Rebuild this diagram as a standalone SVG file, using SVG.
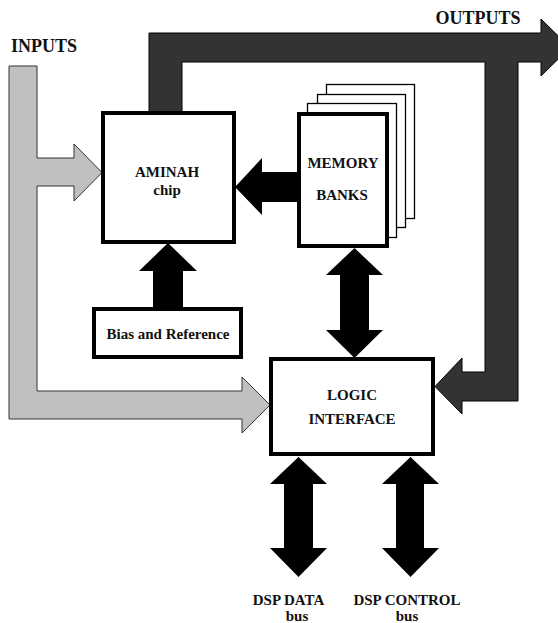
<svg xmlns="http://www.w3.org/2000/svg" width="558" height="623" viewBox="0 0 558 623">
<style>
text{font-family:'Liberation Serif','DejaVu Serif',serif;font-weight:bold;fill:#111;text-anchor:middle}
.big{font-size:18px}
.n{font-size:15px}
.box{fill:#fff;stroke:#000;stroke-width:4}
.sheet{fill:#fff;stroke:#000;stroke-width:1.3}
.gray{fill:#c0c0c0;stroke:#333;stroke-width:1}
.dark{fill:#333;stroke:#000;stroke-width:1}
.blk{fill:#000;stroke:none}
</style>
<rect width="558" height="623" fill="#fff"/>
<g id="connectors">
  <polygon class="gray" points="9,66 37,66 37,158 74,158 74,144 102,172.5 74,201 74,186 37,186 37,391 242,391 242,377 270,405 242,433 242,419 9,419"/>
  <polygon class="dark" points="149,113 149,33 541,33 541,19 570,47.5 541,76 541,62 518,62 518,401 462,401 462,414 435,386.5 462,358 462,372 485,372 485,62 182,62 182,113"/>
  <polygon class="blk" points="298,172 262,172 262,158 235,187 262,215 262,202 298,202"/>
  <polygon class="blk" points="153,308 153,271 139,271 168,243 197,271 183,271 183,308"/>
  <polygon class="blk" points="354.5,248 383,275 369,275 369,330 383,330 354.5,358 326,330 340,330 340,275 326,275"/>
  <polygon class="blk" points="298.5,457 327,484 313,484 313,548 327,548 298.5,577 270,548 284,548 284,484 270,484"/>
  <polygon class="blk" points="410.5,457 439,484 424,484 424,548 439,548 410.5,577 382,548 396,548 396,484 382,484"/>
</g>
<g id="inputs-label"><text class="big" font-family="Liberation Serif, DejaVu Serif, serif" x="44" y="52">INPUTS</text></g>
<g id="outputs-label"><text class="big" font-family="Liberation Serif, DejaVu Serif, serif" x="478" y="24">OUTPUTS</text></g>
<g id="aminah">
  <rect class="box" x="103" y="113" width="131" height="129"/>
  <text class="n" x="167" y="177">AMINAH</text>
  <text class="n" x="167" y="195">chip</text>
</g>
<g id="memory">
  <rect class="sheet" x="326.5" y="84.5" width="88" height="134"/>
  <rect class="sheet" x="317.5" y="94.5" width="88" height="133"/>
  <rect class="sheet" x="307.5" y="103.5" width="89" height="134"/>
  <rect class="box" x="299" y="114" width="88" height="132"/>
  <text class="n" x="343" y="168">MEMORY</text>
  <text class="n" x="342" y="200">BANKS</text>
</g>
<g id="bias">
  <rect class="box" x="94" y="309" width="147" height="48"/>
  <text class="n" x="168" y="339">Bias and Reference</text>
</g>
<g id="logic">
  <rect class="box" x="271" y="359" width="162" height="95"/>
  <text class="n" x="352" y="400">LOGIC</text>
  <text class="n" x="352" y="424">INTERFACE</text>
</g>
<g id="dsp-data">
  <text class="n" x="288.5" y="605">DSP DATA</text>
  <text class="n" x="297" y="621">bus</text>
</g>
<g id="dsp-control">
  <text class="n" x="407" y="605">DSP CONTROL</text>
  <text class="n" x="407" y="621">bus</text>
</g>
</svg>
